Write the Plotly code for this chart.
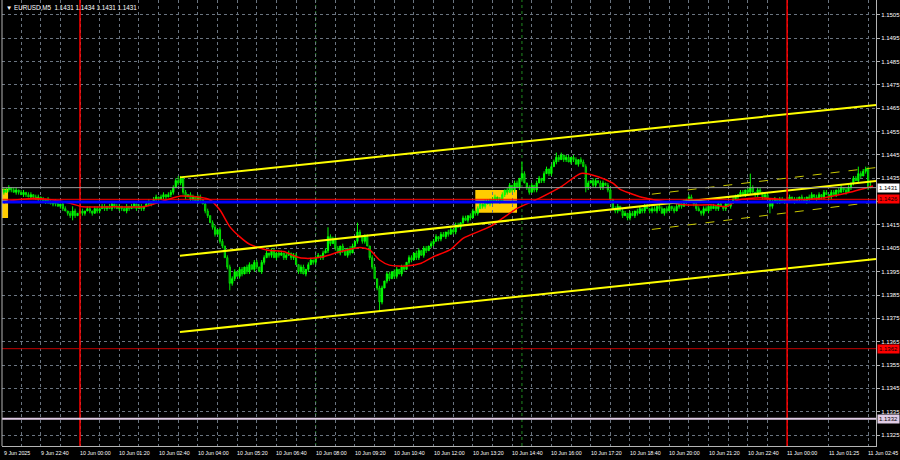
import plotly.graph_objects as go

# ---------------- data (prices in pips above 1.1300, bars = 5-min bars from 10 Jun 00:00) -------------
BASE = 1.1300
PIP = 0.0001
first_bar = -31          # 9 Jun 21:25
first_open = 130

closes_a = [129,130,131,130,129,130,129,128,129,128,127,128,127,126,127,126,125,126,125,124,125,124,123,124,122,121,120,119,121,119,120]
closes_b = [121,120,121,122,121,120,122,121,122,123,122,123,122,124,123,122,123,122,121,123,122,123,124,122,123,122,123,124,125,124,126,127,126,127,128,127,128,129,131,134,133,135]
closes_c = [129,127,128,126,127,125,127,126,124,121,119,116,114,111,113,108,106,101,97,90,92,95,93,96,94,97,95,98,96,99,97,95,99]
closes_d = [101,103,102,104,101,103,102,103,101,102,103,101,102,98,95,97,94,96,98,100,99,101,102,101,103,104,110,107,109]
closes_e = [105,103,106,104,102,105,103,106,108,112,110,108,110,106,101,97,92,88,82,88,91,94,92,95,93,96,94,97,96,99,101,100,103,101,104,102,105,104,106,107]
closes_f = [108,110,109,111,110,112,111,113,112,115,114,116,118,117,119,118,121,120,122,124,123,125,124,126,125,127,126,125,128,130,129,132,130,133,131,135]
closes_g = [137,133,131,129,132,130,133,135,134,137,139,137,140,142,144,143,145,143,144,142,144,143,141,143,142,140,131,133,134,132,134,133,131,133,132,130,126,122,121,123,121]
closes_h = [119,120,118,120,119,121,120,122,121,123,122,121,122,121,123,122,120,122,121,123,122,121,123,124,123,125,126,127,125,124,122,121,120,122,121,123,122,123,122,124,123,122,124,123,125,126,127,128,129,128,130,129]
closes_i = [131,129,128,130,129,127,128,126,123,125,126,125,126,125,126,125,127,126,125,126,127,126,125,127,126,128,127,126,128,127,129,128,127,129,128,130,129,131,130,129,131,133,135,134,137,136,138,139,131,131]

upper_wick_a = [1,1,1,0,1,1,0,1,1,0,1,1,0,1,1,0,1,0,1,1,0,1,1,0,1,1,0,1,2,1,0]
upper_wick_b = [1,1,0,1,1,0,1,1,0,1,1,0,1,1,0,1,1,0,1,1,0,1,1,0,1,1,0,1,1,0,1,1,0,1,1,0,1,1,1,1,2,1]
upper_wick_c = [1,1,0,1,1,0,1,1,0,1,1,0,1,1,0,1,1,0,1,1,1,1,0,1,1,0,1,1,0,1,1,0,1]
upper_wick_d = [1,1,0,1,1,0,1,1,0,1,1,0,1,1,0,1,1,0,1,1,0,1,1,0,1,1,4,1,1]
upper_wick_e = [1,1,0,1,1,0,1,1,0,4,1,0,1,1,0,1,1,0,1,1,0,1,1,0,1,1,0,1,1,0,1,1,0,1,1,0,1,1,0,1]
upper_wick_f = [1,1,0,1,1,0,1,1,0,1,1,0,1,1,0,1,1,0,1,1,0,1,1,0,1,1,0,1,1,0,1,1,0,1,1,0]
upper_wick_g = [5,1,0,1,1,0,1,1,0,1,1,0,1,1,2,1,1,0,1,1,0,1,1,0,1,1,1,1,0,1,1,0,1,1,0,1,1,0,1,1,0]
upper_wick_h = [1,1,0,1,1,0,1,1,0,1,1,0,1,1,0,1,1,0,1,1,0,1,1,0,1,1,0,1,1,0,1,1,0,1,1,0,1,1,0,1,1,0,1,1,0,1,1,0,1,1,0,1]
upper_wick_i = [6,1,0,1,1,0,1,1,0,1,1,0,1,1,0,1,1,0,1,1,0,1,1,0,1,1,0,1,1,0,1,1,0,1,1,0,1,1,0,1,1,0,1,1,3,1,1,1,1,3]

lower_wick_a = [1,0,1,1,0,1,1,0,1,1,0,1,1,0,1,1,0,1,1,0,1,1,0,1,1,0,1,1,2,1,0]
lower_wick_b = [0,1,1,0,1,1,0,1,1,0,1,1,0,1,1,0,1,1,0,1,1,0,1,1,0,1,1,0,1,1,0,1,1,0,1,1,0,1,1,0,1,1]
lower_wick_c = [1,1,0,1,1,0,1,1,0,1,1,0,1,1,0,1,1,0,1,3,1,1,0,1,1,0,1,1,0,1,1,0,1]
lower_wick_d = [1,0,1,1,0,1,1,0,1,1,0,1,1,0,1,1,0,1,1,0,1,1,0,1,1,0,1,1,0]
lower_wick_e = [1,0,1,1,0,1,1,0,1,1,0,1,1,0,1,1,0,1,4,1,0,1,1,0,1,1,0,1,1,0,1,1,0,1,1,0,1,1,0,1]
lower_wick_f = [1,0,1,1,0,1,1,0,1,1,0,1,1,0,1,1,0,1,1,0,1,1,0,1,1,0,1,1,0,1,1,0,1,1,0,1]
lower_wick_g = [1,0,1,1,0,1,1,0,1,1,0,1,1,0,1,1,0,1,1,0,1,1,0,1,1,0,2,1,0,1,1,0,1,1,0,1,1,0,1,1,0]
lower_wick_h = [1,0,1,1,0,1,1,0,1,1,0,1,1,0,1,1,0,1,1,0,1,1,0,1,1,0,1,1,0,1,1,0,1,1,0,1,1,0,1,1,0,1,1,0,1,1,0,1,1,0,1,1]
lower_wick_i = [1,0,1,1,0,1,1,0,3,1,0,1,1,0,1,1,0,1,1,0,1,1,0,1,1,0,1,1,0,1,1,0,1,1,0,1,1,0,1,1,0,1,1,0,1,1,0,1,1,0]

# moving average (red)
ma_bars = [-31,-30,-20,-11,-4,1,14,26,31,41,49,53,57,61,65,69,76,83,88,92,99,106,114,118,122,126,133,139,144,151,156,167,178,187,196,204,211,217,220,224,228,231,234,247,258,263,268,277,288,301,312,323]
ma_vals = [124.3,125.0,126.4,125.7,124.3,122.8,122.8,122.8,124.3,127.4,126.9,125.7,121.4,114.3,110.0,106.8,104.3,103.6,101.4,100.7,101.4,103.6,105.4,104.3,100.0,97.8,97.4,98.6,101.4,104.6,109.3,114.3,122.1,126.4,131.4,137.1,135.7,132.9,130.3,128.6,127.1,126.4,125.7,123.6,123.6,122.8,125.7,126.7,125.7,126.4,128.6,131.7]

# equidistant channel (solid yellow) and second channel (dashed)
chan_bars = [40.7, 324.2]
chan_upper = [135.4, 166.4]
chan_middle = [101.8, 133.8]
chan_lower = [69.1, 100.4]
dash_bars = [232.9, 324.2]
dash_upper = [128.2, 139.6]
dash_lower = [113.1, 124.9]

# horizontal levels
bid_level = 131        # 1.1431
red_level = 126        # 1.1426
blue_level = 124.8
support_level = 62     # 1.1362
low_level = 32         # 1.1332

# yellow boxes: (bar0, bar1, p0, p1)
boxes = [(-34, -29.3, 118.0, 130.5), (161, 178, 120.2, 130.0)]

# vertical lines
red_vlines = [0, 288]
green_vlines = [96, 180]

# axis labels (1.1425 sits under the 1.1426 price box, so its text is hidden)
price_ticks = list(range(25, 206, 10))   # 1.1325 ... 1.1505
hidden_price_ticks = [125]
time_label_bars = [-31,-16,0,16,32,48,64,80,96,112,128,144,160,176,192,208,224,240,256,272,288,305,321]
time_label_text = ["9 Jun 2025","9 Jun 22:40","10 Jun 00:00","10 Jun 01:20","10 Jun 02:40","10 Jun 04:00",
                   "10 Jun 05:20","10 Jun 06:40","10 Jun 08:00","10 Jun 09:20","10 Jun 10:40","10 Jun 12:00",
                   "10 Jun 13:20","10 Jun 14:40","10 Jun 16:00","10 Jun 17:20","10 Jun 18:40","10 Jun 20:00",
                   "10 Jun 21:20","10 Jun 22:40","11 Jun 00:00","11 Jun 01:25","11 Jun 02:45"]
grid_bars = list(range(-24, 289, 8)) + [305, 321]

# ---------------- build ----------------
closes = closes_a + closes_b + closes_c + closes_d + closes_e + closes_f + closes_g + closes_h + closes_i
uw = upper_wick_a + upper_wick_b + upper_wick_c + upper_wick_d + upper_wick_e + upper_wick_f + upper_wick_g + upper_wick_h + upper_wick_i
lw = lower_wick_a + lower_wick_b + lower_wick_c + lower_wick_d + lower_wick_e + lower_wick_f + lower_wick_g + lower_wick_h + lower_wick_i
n = len(closes)
assert len(uw) == n and len(lw) == n, (n, len(uw), len(lw))
bars = list(range(first_bar, first_bar + n))
opens = [first_open] + closes[:-1]

def P(v):
    return round(BASE + v * PIP, 5)

o = [P(v) for v in opens]
c = [P(v) for v in closes]
h = [P(max(a, b) + u) for a, b, u in zip(opens, closes, uw)]
l = [P(min(a, b) - d) for a, b, d in zip(opens, closes, lw)]

FONT = "Liberation Sans"
FS = 6
FS_TIME = 5.3

fig = go.Figure()

fig.add_trace(go.Candlestick(
    x=bars, open=o, high=h, low=l, close=c,
    increasing=dict(line=dict(color="#00ff00", width=1), fillcolor="#00ff00"),
    decreasing=dict(line=dict(color="#00e000", width=1), fillcolor="#007a00"),
    whiskerwidth=0, showlegend=False, hoverinfo="skip"))

fig.add_trace(go.Scatter(x=ma_bars, y=[P(v) for v in ma_vals], mode="lines",
                         line=dict(color="#ff0000", width=1.5, shape="spline", smoothing=0.6),
                         showlegend=False, hoverinfo="skip"))

for ys in (chan_upper, chan_middle, chan_lower):
    fig.add_trace(go.Scatter(x=chan_bars, y=[P(v) for v in ys], mode="lines",
                             line=dict(color="#ffff00", width=2), showlegend=False, hoverinfo="skip"))
for ys in (dash_upper, dash_lower):
    fig.add_trace(go.Scatter(x=dash_bars, y=[P(v) for v in ys], mode="lines",
                             line=dict(color="#c8c800", width=1, dash="dash"), showlegend=False, hoverinfo="skip"))

shapes = []
for b0, b1, p0, p1 in boxes:
    shapes.append(dict(type="rect", xref="x", yref="y", x0=b0, x1=b1, y0=P(p0), y1=P(p1),
                       fillcolor="#ffcc00", line=dict(width=0), layer="below"))
for b in red_vlines:
    shapes.append(dict(type="line", xref="x", yref="paper", x0=b, x1=b, y0=0, y1=1,
                       line=dict(color="#ff0000", width=1.5), layer="above"))
for b in green_vlines:
    shapes.append(dict(type="line", xref="x", yref="paper", x0=b, x1=b, y0=0, y1=1,
                       line=dict(color="#1f8a1f", width=1, dash="dot"), layer="below"))
hlines = [(bid_level, "#9a9a9a", 1), (red_level, "#ff0000", 1), (blue_level, "#0000ff", 3),
          (support_level, "#c00000", 1), (low_level, "#e0cce6", 2)]
for lev, col, w in hlines:
    shapes.append(dict(type="line", xref="paper", yref="y", x0=0, x1=1, y0=P(lev), y1=P(lev),
                       line=dict(color=col, width=w), layer="above"))
# left frame border
shapes.append(dict(type="line", xref="paper", yref="paper", x0=0, x1=0, y0=0, y1=1,
                   line=dict(color="#b4b4b4", width=1)))

annotations = []
for b, t in zip(time_label_bars, time_label_text):
    annotations.append(dict(x=b, y=0, xref="x", yref="paper", text=t, showarrow=False,
                            xanchor="left", yanchor="top", yshift=-2, xshift=-2,
                            font=dict(family=FONT, size=FS_TIME, color="#ffffff")))
label_boxes = [(bid_level, "#ffffff", "#000000"), (red_level, "#ff0000", "#000000"),
               (support_level, "#ff0000", "#000000"), (low_level, "#e0cce6", "#000000")]
for lev, bg, fg in label_boxes:
    annotations.append(dict(x=1, y=P(lev), xref="paper", yref="y", text=f"{P(lev):.4f}", showarrow=False,
                            xanchor="left", yanchor="middle", xshift=1, bgcolor=bg, borderpad=1,
                            font=dict(family=FONT, size=FS, color=fg)))
annotations.append(dict(x=0, y=1, xref="paper", yref="paper",
                        text="▼ EURUSD,M5  1.1431 1.1434 1.1431 1.1431", showarrow=False,
                        xanchor="left", yanchor="top", xshift=2, yshift=-2,
                        font=dict(family=FONT, size=6.3, color="#ffffff")))

fig.update_layout(
    width=900, height=460,
    margin=dict(l=2, r=24, t=0, b=14),
    paper_bgcolor="#000000", plot_bgcolor="#000000",
    shapes=shapes, annotations=annotations,
    xaxis=dict(range=[-31.77, 324.2], rangeslider=dict(visible=False),
               tickmode="array", tickvals=grid_bars, showticklabels=False, ticks="",
               showgrid=True, gridcolor="#6a7480", griddash="dot", gridwidth=1,
               showline=True, linecolor="#b4b4b4", linewidth=1, zeroline=False),
    yaxis=dict(range=[P(20.3), P(211.43)], side="right",
               tickmode="array", tickvals=[P(v) for v in price_ticks],
               ticktext=["" if v in hidden_price_ticks else f"{P(v):.4f}" for v in price_ticks],
               ticks="outside", ticklen=3, tickcolor="#b4b4b4",
               tickfont=dict(family=FONT, size=FS, color="#ffffff"),
               showgrid=True, gridcolor="#6a7480", griddash="dot", gridwidth=1,
               showline=True, linecolor="#b4b4b4", linewidth=1, zeroline=False),
)

fig.write_html("out.html", config={"displayModeBar": False},
               post_script="document.body.style.margin='0';document.body.style.padding='0';"
                           "document.body.style.background='#000000';"
                           "document.documentElement.style.background='#000000';")
